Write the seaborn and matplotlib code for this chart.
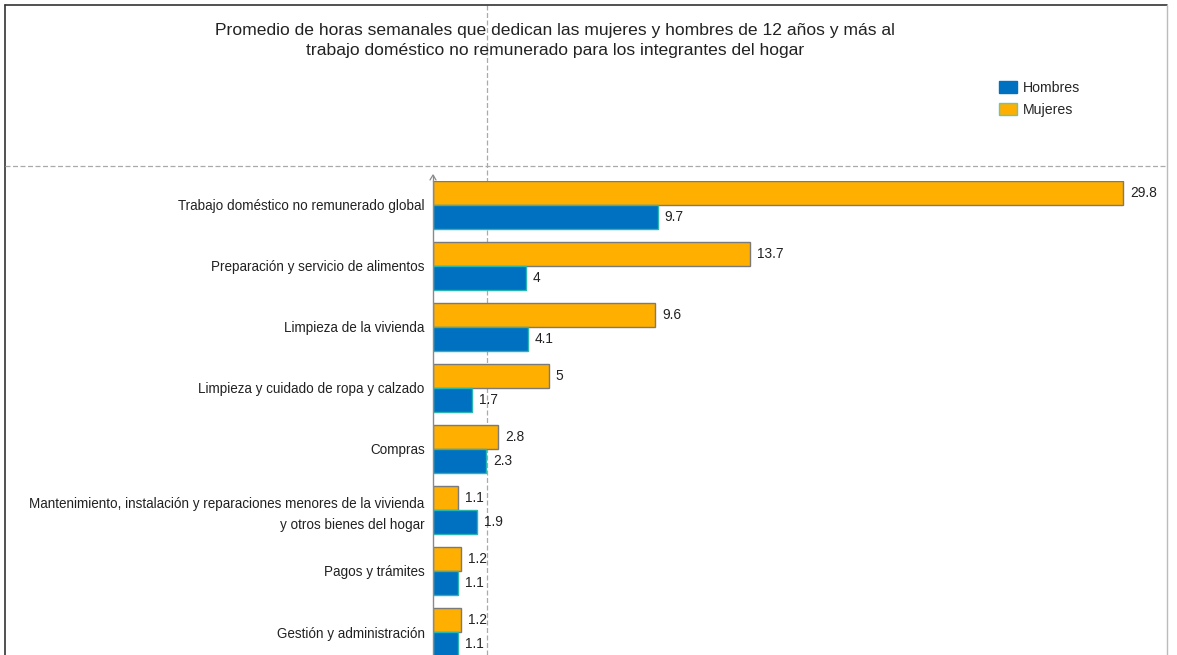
import matplotlib
matplotlib.use("Agg")
import matplotlib.pyplot as plt
import seaborn as sns
import pandas as pd
from matplotlib.patches import Patch
from matplotlib.lines import Line2D

categories = [
    "Trabajo doméstico no remunerado global",
    "Preparación y servicio de alimentos",
    "Limpieza de la vivienda",
    "Limpieza y cuidado de ropa y calzado",
    "Compras",
    "Mantenimiento, instalación y reparaciones menores de la vivienda\ny otros bienes del hogar",
    "Pagos y trámites",
    "Gestión y administración",
]
mujeres = [29.8, 13.7, 9.6, 5, 2.8, 1.1, 1.2, 1.2]
hombres = [9.7, 4, 4.1, 1.7, 2.3, 1.9, 1.1, 1.1]
series_names = ["Mujeres", "Hombres"]
title = ("Promedio de horas semanales que dedican las mujeres y hombres de 12 años y más al\n"
         "trabajo doméstico no remunerado para los integrantes del hogar")

colors = {"Mujeres": "#FFAF00", "Hombres": "#0070C0"}
edges = {"Mujeres": "#7a7a7a", "Hombres": "#2BB5B0"}

df = pd.DataFrame({
    "cat": categories * 2,
    "val": mujeres + hombres,
    "sexo": ["Mujeres"] * len(categories) + ["Hombres"] * len(categories),
})

sns.set_style("white")
plt.rcParams["font.family"] = ["Liberation Sans", "DejaVu Sans"]

W, H = 1177, 655
fig = plt.figure(figsize=(W / 100, H / 100), dpi=100)

x0 = 433
scale = 690 / 29.8
xmax = 32
top_px = 181
ax = fig.add_axes([x0 / W, 0, xmax * scale / W, (H - top_px) / H])

sns.barplot(data=df, y="cat", x="val", hue="sexo", hue_order=series_names,
            order=categories, palette=colors, width=0.787, orient="h",
            ax=ax, legend=False, saturation=1)

for cont, name in zip(ax.containers, series_names):
    for p in cont:
        p.set_edgecolor(edges[name])
        p.set_linewidth(1.0)
    ax.bar_label(cont, labels=[f"{v:g}" for v in cont.datavalues],
                 padding=5, fontsize=9.9, color="#222222")

ax.set_xlim(0, xmax)
ax.set_ylim(7.377, -0.393)
ax.set_xlabel("")
ax.set_ylabel("")
ax.set_xticks([])
ax.tick_params(axis="y", length=0, pad=6, labelsize=9.75, labelcolor="#222222")
for lbl in ax.get_yticklabels():
    lbl.set_linespacing(1.6)
for s in ["top", "right", "bottom"]:
    ax.spines[s].set_visible(False)
ax.spines["left"].set_color("#8a8a8a")
ax.spines["left"].set_linewidth(1.0)
ax.patch.set_alpha(0)

# arrow tip on axis
fig.add_artist(Line2D([x0 / W - 3 / W, x0 / W, x0 / W + 3 / W],
                      [1 - 180 / H, 1 - 175 / H, 1 - 180 / H],
                      color="#8a8a8a", lw=0.9))
fig.add_artist(Line2D([x0 / W, x0 / W], [1 - 181 / H, 1 - 175 / H],
                      color="#8a8a8a", lw=0.9))

# title
fig.text(555 / W, 1 - 40.5 / H, title, ha="center", va="center",
         fontsize=12.6, color="#222222", linespacing=1.5)

# legend
handles = [Patch(facecolor=colors["Hombres"], edgecolor=colors["Hombres"], label="Hombres"),
           Patch(facecolor=colors["Mujeres"], edgecolor="#5fc9b8", label="Mujeres")]
fig.legend(handles=handles, loc="upper left", bbox_to_anchor=(999 / W, 1 - 81 / H),
           frameon=False, fontsize=10.2, handlelength=1.3, handleheight=0.85,
           handletextpad=0.35, labelspacing=0.55, borderaxespad=0, borderpad=0)

# frame and guides
fc = "#333333"
fig.add_artist(Line2D([5 / W, 5 / W], [0, 1 - 5 / H], color=fc, lw=1.2))
fig.add_artist(Line2D([5 / W, 1167 / W], [1 - 5 / H, 1 - 5 / H], color=fc, lw=1.2))
fig.add_artist(Line2D([1167 / W, 1167 / W], [0, 1 - 5 / H], color="#bbbbbb", lw=1.0))
fig.add_artist(Line2D([5 / W, 1167 / W], [1 - 166 / H, 1 - 166 / H], color="#aaaaaa",
                      lw=0.9, ls=(0, (4, 2))))
fig.add_artist(Line2D([487 / W, 487 / W], [0, 1 - 5 / H], color="#aaaaaa",
                      lw=0.9, ls=(0, (4, 2)), zorder=0))

fig.savefig("out.png", dpi=100)
